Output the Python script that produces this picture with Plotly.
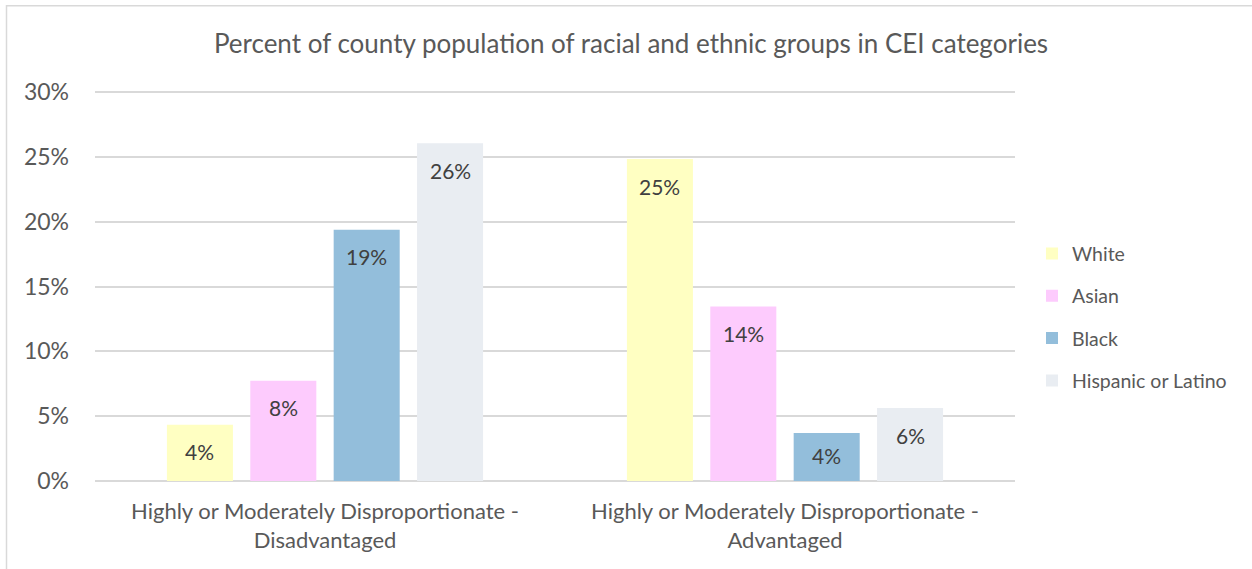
import plotly.graph_objects as go

categories = ["Highly or Moderately Disproportionate -<br>Disadvantaged",
              "Highly or Moderately Disproportionate -<br>Advantaged"]
series_names = ["White", "Asian", "Black", "Hispanic or Latino"]
white = [0.0434, 0.2485]
asian = [0.0774, 0.1347]
black = [0.1940, 0.0370]
hispanic = [0.2606, 0.0563]
labels = [["4%", "25%"], ["8%", "14%"], ["19%", "4%"], ["26%", "6%"]]
y_ticks = [0, 0.05, 0.10, 0.15, 0.20, 0.25, 0.30]
colors = ["#FFFFC2", "#FDCBFD", "#93BEDB", "#E9EDF2"]

values = [white, asian, black, hispanic]
FONT = "Lato"
W, H = 1252, 569
Y_MAX = 0.301
L, R, B = 95, 237, 87.7
px_per_unit = 388.8 / 0.30
plot_h = Y_MAX * px_per_unit
T = H - B - plot_h
plot_w = W - L - R

fig = go.Figure()
for i, (name, vals) in enumerate(zip(series_names, values)):
    fig.add_trace(go.Bar(
        x=categories, y=vals, name=name,
        marker=dict(color=colors[i], line=dict(width=0)),
        legendgroup=name, hoverinfo="skip",
    ))

# data labels, inside end
n = len(series_names)
slot = plot_w / len(categories) * (1 - 0.275) / n
for i, vals in enumerate(values):
    for j, v in enumerate(vals):
        bar_px = v * px_per_unit
        shift = -27 if bar_px > 50 else -22
        fig.add_annotation(
            x=categories[j], y=v, text=labels[i][j], showarrow=False,
            xshift=(i - (n - 1) / 2) * slot, yshift=shift,
            font=dict(family=FONT, size=21, color="#404040"),
            xanchor="center", yanchor="middle",
        )

# outer chart border
fig.add_shape(type="rect", xref="paper", yref="paper",
              x0=(6.5 - L) / plot_w, x1=(1262 - L) / plot_w,
              y0=(H - B - 580) / plot_h, y1=(H - B - 6) / plot_h,
              line=dict(color="#D9D9D9", width=1.5), layer="below")

fig.update_layout(
    width=W, height=H,
    margin=dict(l=L, r=R, t=T, b=B),
    paper_bgcolor="white", plot_bgcolor="white",
    barmode="group", bargap=0.275, bargroupgap=0.208,
    font=dict(family=FONT, color="#595959"),
    title=dict(text="Percent of county population of racial and ethnic groups in CEI categories",
               font=dict(family=FONT, size=26, color="#595959"),
               xref="container", x=631 / W, xanchor="center",
               yref="container", y=1 - 44 / H, yanchor="middle"),
    xaxis=dict(showgrid=False, showline=False, ticks="",
               tickfont=dict(family=FONT, size=22, color="#595959"),
               ticklabelstandoff=15),
    yaxis=dict(range=[0, Y_MAX], tickvals=y_ticks, tickformat=".0%",
               showgrid=True, gridcolor="#D9D9D9", gridwidth=1.5,
               zeroline=True, zerolinecolor="#D9D9D9", zerolinewidth=1.5,
               showline=False, ticks="",
               tickfont=dict(family=FONT, size=23, color="#595959"),
               ticklabelstandoff=25),
    legend=dict(x=(1032 - L) / plot_w, xanchor="left",
                y=(H - B - 317.5) / plot_h, yanchor="middle",
                font=dict(family=FONT, size=19.5, color="#595959"),
                tracegroupgap=14, bgcolor="rgba(0,0,0,0)"),
    showlegend=True,
)

fig.write_html("out.html", config={"displayModeBar": False},
               post_script="document.body.style.margin='0';document.body.style.overflow='hidden';")
